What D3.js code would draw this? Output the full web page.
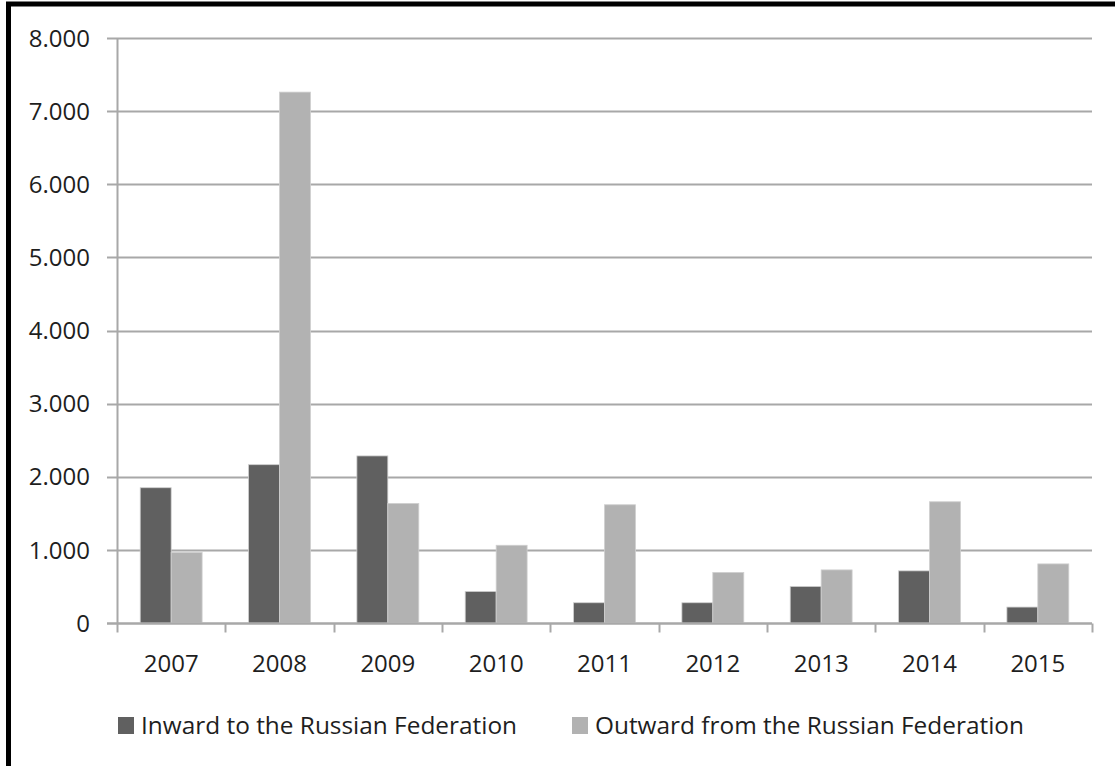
<!DOCTYPE html>
<html>
<head>
<meta charset="utf-8">
<script src="https://cdn.jsdelivr.net/npm/d3@7"></script>
<style>
  body { margin: 0; background: #fff; }
  svg { display: block; font-family: "Open Sans", sans-serif; }
</style>
</head>
<body>
<div id="chart"></div>
<script>

// Data
const years = ["2007", "2008", "2009", "2010", "2011", "2012", "2013", "2014", "2015"];
const seriesNames = ["Inward to the Russian Federation", "Outward from the Russian Federation"];
const inward = [1850, 2165, 2285, 432, 277, 277, 500, 713, 218];
const outward = [965, 7260, 1635, 1063, 1617, 691, 726, 1658, 808];
const yTicks = [0, 1000, 2000, 3000, 4000, 5000, 6000, 7000, 8000];

const colors = ["#606060", "#b2b2b2"];

// Set the dimensions
let width = 1115,
    height = 766,
    plot = { left: 117, right: 1092, top: 38, bottom: 623 };

let svg = d3.select("#chart")
    .append("svg")
    .attr("width", width)
    .attr("height", height);

svg.append("rect")
    .attr("width", width)
    .attr("height", height)
    .attr("fill", "#fff");

// Black frame, right and bottom edges fall outside the picture
svg.append("rect")
    .attr("x", 8.5)
    .attr("y", 4)
    .attr("width", 1300)
    .attr("height", 1000)
    .attr("fill", "none")
    .attr("stroke", "#000")
    .attr("stroke-width", 5);

let x0 = d3.scaleBand()
    .domain(years)
    .range([plot.left, plot.right])
    .padding(0);

let x1 = d3.scaleBand()
    .domain(seriesNames)
    .range([0, x0.bandwidth()])
    .paddingInner(0)
    .paddingOuter(0.75);

let y = d3.scaleLinear()
    .domain([0, 8000])
    .range([plot.bottom, plot.top]);

let locale = d3.formatLocale({ decimal: ",", thousands: ".", grouping: [3], currency: ["", ""] });
let fmt = locale.format(",");

// Gridlines, with the little tick stub left of the axis
svg.append("g")
    .selectAll("line")
    .data(yTicks)
    .enter()
    .append("line")
    .attr("x1", plot.left - 10)
    .attr("x2", plot.right)
    .attr("y1", d => Math.round(y(d)) + 0.5)
    .attr("y2", d => Math.round(y(d)) + 0.5)
    .attr("stroke", "#a8a8a8")
    .attr("stroke-width", 2);

// Y labels
svg.append("g")
    .selectAll("text")
    .data(yTicks)
    .enter()
    .append("text")
    .attr("x", 90)
    .attr("y", d => y(d))
    .attr("dy", "0.36em")
    .attr("text-anchor", "end")
    .attr("font-size", 24)
    .attr("fill", "#1e1e1e")
    .text(d => fmt(d));

// Bars
let groups = svg.append("g")
    .selectAll("g")
    .data(years)
    .enter()
    .append("g")
    .attr("transform", d => "translate(" + x0(d) + ",0)");

groups.selectAll("rect")
    .data((d, i) => [
        { name: seriesNames[0], value: inward[i], c: colors[0] },
        { name: seriesNames[1], value: outward[i], c: colors[1] }
    ])
    .enter()
    .append("rect")
    .attr("x", d => x1(d.name))
    .attr("y", d => y(d.value))
    .attr("width", x1.bandwidth())
    .attr("height", d => y(0) - y(d.value))
    .attr("fill", d => d.c)
    .attr("stroke", "#cfcfcf")
    .attr("stroke-width", 0.8);

// Y axis line
svg.append("line")
    .attr("x1", plot.left + 0.5)
    .attr("x2", plot.left + 0.5)
    .attr("y1", plot.top)
    .attr("y2", plot.bottom)
    .attr("stroke", "#a8a8a8")
    .attr("stroke-width", 2);

// X axis
let xAxis = d3.axisBottom(x0).tickSize(0).tickPadding(0);
let gx = svg.append("g")
    .attr("transform", "translate(0," + (plot.bottom + 0.5) + ")")
    .call(xAxis);
gx.select(".domain")
    .attr("d", "M" + (plot.left - 10) + ",0H" + plot.right)
    .attr("stroke", "#a8a8a8")
    .attr("stroke-width", 2);
gx.selectAll(".tick text")
    .attr("y", 48)
    .attr("dy", 0)
    .attr("font-size", 24)
    .attr("font-family", "Open Sans, sans-serif")
    .attr("fill", "#1e1e1e");

// Category boundary ticks
let bounds = years.map(d => x0(d)).concat([plot.right]);
gx.selectAll("line.bound")
    .data(bounds)
    .enter()
    .append("line")
    .attr("class", "bound")
    .attr("x1", d => Math.round(d) + 0.5)
    .attr("x2", d => Math.round(d) + 0.5)
    .attr("y1", 0)
    .attr("y2", 9)
    .attr("stroke", "#a8a8a8")
    .attr("stroke-width", 2);

// Legend
let legendX = [118, 572];
let legend = svg.append("g")
    .selectAll("g")
    .data(seriesNames)
    .enter()
    .append("g")
    .attr("transform", (d, i) => "translate(" + legendX[i] + ",717)");

legend.append("rect")
    .attr("width", 16)
    .attr("height", 17)
    .attr("fill", (d, i) => colors[i]);

legend.append("text")
    .attr("x", 23)
    .attr("y", 17)
    .attr("font-size", 24.4)
    .attr("fill", "#1e1e1e")
    .text(d => d);

</script>
</body>
</html>
